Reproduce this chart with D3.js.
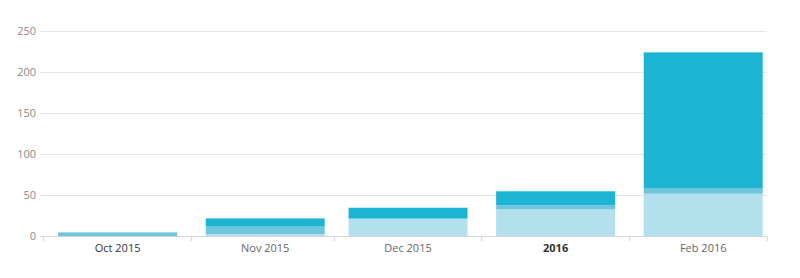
<!DOCTYPE html>
<html>
  <head>
    <meta charset="UTF-8" />
    <style>
      body { margin: 0; background: #fff; }
      text { font-family: 'Open Sans', sans-serif; }
    </style>
  </head>
  <body>
    <svg></svg>

    <script src="https://d3js.org/d3.v7.min.js"></script>

    <script>
      let width = 800,
        height = 278

      // data
      let months = ['2015-10-01', '2015-11-01', '2015-12-01', '2016-01-01', '2016-02-01']
      let monthLabels = ['Oct 2015', 'Nov 2015', 'Dec 2015', '2016', 'Feb 2016']
      let lightValues = [0, 3, 21, 33, 52]
      let midValues = [5, 9, 1, 5, 7]
      let darkValues = [0, 10, 13, 17, 165]
      let yTicks = [0, 50, 100, 150, 200, 250]

      let colors = ['#b2e1ed', '#6fc5dc', '#1db4d3']

      let svg = d3.select('svg').attr('width', width).attr('height', height)

      let parse = d3.timeParse('%Y-%m-%d')
      let dates = months.map(parse)

      let x = d3
        .scaleTime()
        .domain([dates[0], d3.timeMonth.offset(dates[dates.length - 1], 1)])
        .range([43.3, 767])

      let y = d3.scaleLinear().domain([0, 250]).range([236.5, 31])

      // gridlines + y labels
      let grid = svg.append('g')
      grid
        .selectAll('line')
        .data(yTicks.slice(1))
        .enter()
        .append('line')
        .attr('x1', 40)
        .attr('x2', 767)
        .attr('y1', (d) => Math.round(y(d)) + 0.5)
        .attr('y2', (d) => Math.round(y(d)) + 0.5)
        .attr('stroke', '#e6e6e6')

      grid
        .selectAll('text')
        .data(yTicks)
        .enter()
        .append('text')
        .attr('x', 36)
        .attr('y', (d) => y(d))
        .attr('dy', '0.35em')
        .attr('text-anchor', 'end')
        .attr('font-size', 11)
        .attr('fill', '#8a8a8a')
        .text((d) => d)

      // stacked bars
      let table = dates.map((d, i) => ({
        date: d,
        light: lightValues[i],
        mid: midValues[i],
        dark: darkValues[i],
      }))
      let series = d3.stack().keys(['light', 'mid', 'dark'])(table)

      let barOffset = 14.8,
        barWidth = 119

      svg
        .append('g')
        .selectAll('g')
        .data(series)
        .enter()
        .append('g')
        .attr('fill', (d, i) => colors[i])
        .selectAll('rect')
        .data((d) => d)
        .enter()
        .append('rect')
        .attr('x', (d) => x(d.data.date) + barOffset)
        .attr('width', barWidth)
        .attr('y', (d) => y(d[1]))
        .attr('height', (d) => y(d[0]) - y(d[1]))

      // x axis
      let axis = svg.append('g')
      axis
        .append('line')
        .attr('x1', 40)
        .attr('x2', 767)
        .attr('y1', 236.5)
        .attr('y2', 236.5)
        .attr('stroke', '#d6d6d6')

      let tickDates = dates.concat([x.domain()[1]])
      axis
        .selectAll('.tick')
        .data(tickDates)
        .enter()
        .append('line')
        .attr('x1', (d) => Math.round(x(d)) + 0.5)
        .attr('x2', (d) => Math.round(x(d)) + 0.5)
        .attr('y1', 236.5)
        .attr('y2', 241)
        .attr('stroke', '#d6d6d6')

      axis
        .selectAll('text')
        .data(dates)
        .enter()
        .append('text')
        .attr('x', (d) => x(d) + barOffset + barWidth / 2)
        .attr('y', 248)
        .attr('dy', '0.35em')
        .attr('text-anchor', 'middle')
        .attr('font-size', 11)
        .attr('font-weight', (d, i) => (monthLabels[i] == '2016' ? 'bold' : 'normal'))
        .attr('fill', (d, i) => (i == 0 ? '#333' : monthLabels[i] == '2016' ? '#333' : '#666'))
        .text((d, i) => monthLabels[i])
    </script>
  </body>
</html>
